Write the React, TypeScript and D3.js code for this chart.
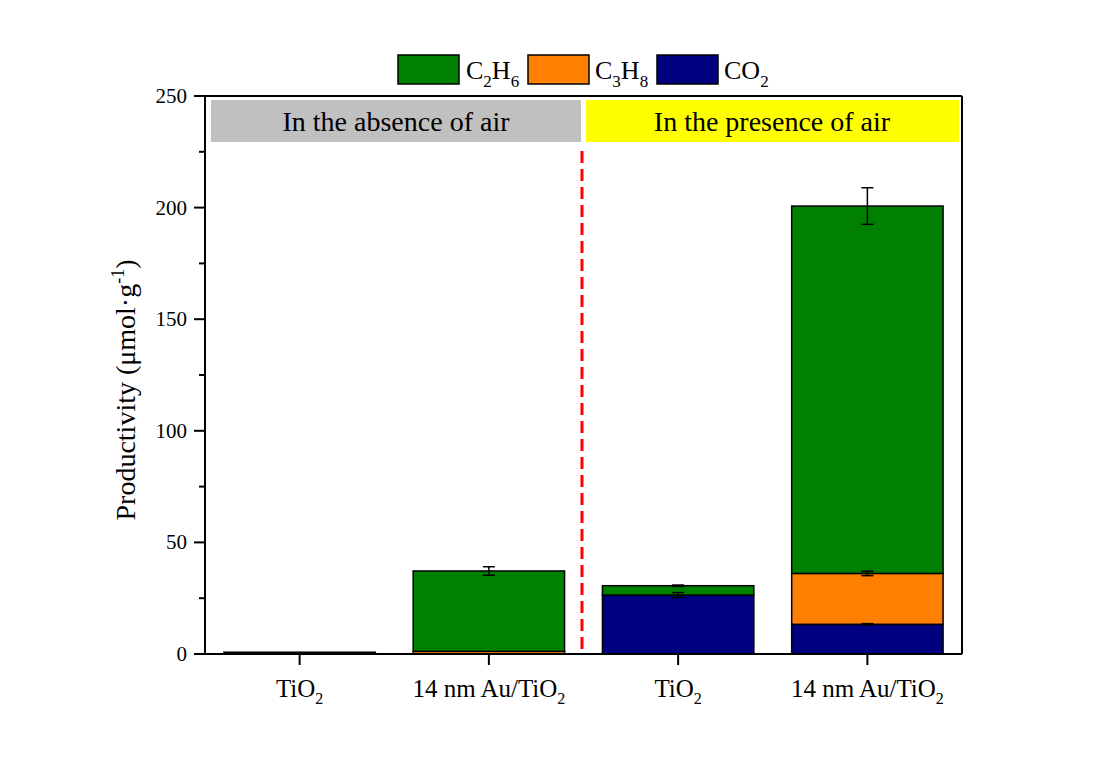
import React from "react";
import * as d3 from "d3";

const categories = ["TiO2 (no air)", "14 nm Au/TiO2 (no air)", "TiO2 (air)", "14 nm Au/TiO2 (air)"];
const categoryLabels: [string, string][] = [["TiO", "2"], ["14 nm Au/TiO", "2"], ["TiO", "2"], ["14 nm Au/TiO", "2"]];
const co2Values = [0, 0, 26.4, 13.3];
const c3h8Values = [0, 1.2, 0, 22.8];
const c2h6Values = [0.8, 36.0, 4.2, 164.6];
const co2Errors = [0, 0, 1.1, 0.3];
const c3h8Errors = [0, 0, 0, 1.0];
const c2h6Errors = [0, 1.9, 0.3, 8.2];
const yTicks = [0, 50, 100, 150, 200, 250];
const yMinorTicks = [25, 75, 125, 175, 225];
const seriesNames: [string, string, string, string][] = [["C", "2", "H", "6"], ["C", "3", "H", "8"], ["CO", "2", "", ""]];

const colors = { C2H6: "#008000", C3H8: "#FF8000", CO2: "#000080" };
const FONT = "'Liberation Serif', 'Times New Roman', serif";

export default function App() {
  const left = 205, right = 962, top = 96, bottom = 654;
  const x = d3.scaleBand<string>().domain(categories).range([left, right]).paddingInner(0.2).paddingOuter(0.1);
  const y = d3.scaleLinear().domain([0, 250]).range([bottom, top]);

  const stackKeys = ["CO2", "C3H8", "C2H6"] as const;
  const rows = categories.map((c, i) => ({ cat: c, CO2: co2Values[i], C3H8: c3h8Values[i], C2H6: c2h6Values[i] }));
  const stack = d3.stack<any>().keys(stackKeys as any)(rows);
  const errs: Record<string, number[]> = { CO2: co2Errors, C3H8: c3h8Errors, C2H6: c2h6Errors };
  const bw = x.bandwidth();

  const legendItems = [
    { key: "C2H6", box: 398, text: 466, name: seriesNames[0] },
    { key: "C3H8", box: 528, text: 595, name: seriesNames[1] },
    { key: "CO2", box: 657, text: 724, name: seriesNames[2] },
  ];

  return (
    <div style={{ position: "absolute", left: 0, top: 0 }}>
      <svg width={1101} height={771} style={{ display: "block", background: "#fff" }} fontFamily={FONT}>
        {/* Legend */}
        {legendItems.map((it) => (
          <g key={it.key}>
            <rect x={it.box} y={55} width={61} height={29} fill={(colors as any)[it.key]} stroke="#000" strokeWidth={1.5} />
            <text x={it.text} y={79} fontSize={26} fill="#000">
              <tspan>{it.name[0]}</tspan>
              <tspan fontSize={17} dy={8}>{it.name[1]}</tspan>
              {it.name[2] && <tspan dy={-8}>{it.name[2]}</tspan>}
              {it.name[3] && <tspan fontSize={17} dy={8}>{it.name[3]}</tspan>}
            </text>
          </g>
        ))}

        {/* Header boxes */}
        <rect x={211} y={100} width={370} height={42} fill="#C0C0C0" />
        <rect x={586} y={100} width={373} height={42} fill="#FFFF00" />
        <text x={396} y={131} textAnchor="middle" fontSize={28} fill="#000">In the absence of air</text>
        <text x={772} y={131} textAnchor="middle" fontSize={28} fill="#000">In the presence of air</text>

        {/* Divider */}
        <line x1={582} x2={582} y1={151} y2={bottom} stroke="#FF0000" strokeWidth={3} strokeDasharray="12,6" />

        {/* Bars */}
        {stack.map((layer) => (
          <g key={layer.key}>
            {layer.map((d, i) => {
              const h = y(d[0]) - y(d[1]);
              if (d[1] - d[0] <= 0) return null;
              return (
                <rect key={i} x={x(categories[i])!} y={y(d[1])} width={bw} height={h}
                  fill={(colors as any)[layer.key]} stroke="#000" strokeWidth={1.5} />
              );
            })}
          </g>
        ))}

        {/* Error bars */}
        {stack.map((layer) => (
          <g key={"e" + layer.key}>
            {layer.map((d, i) => {
              const e = errs[layer.key as string][i];
              if (e <= 0 || d[1] - d[0] <= 0) return null;
              const cx = x(categories[i])! + bw / 2;
              return (
                <g key={i} stroke="#000" strokeWidth={1.5}>
                  <line x1={cx} x2={cx} y1={y(d[1] + e)} y2={y(d[1] - e)} />
                  <line x1={cx - 6} x2={cx + 6} y1={y(d[1] + e)} y2={y(d[1] + e)} />
                  <line x1={cx - 6} x2={cx + 6} y1={y(d[1] - e)} y2={y(d[1] - e)} />
                </g>
              );
            })}
          </g>
        ))}

        {/* Frame */}
        <line x1={194} x2={right} y1={top} y2={top} stroke="#000" strokeWidth={2} />
        <line x1={right} x2={right} y1={top} y2={bottom} stroke="#000" strokeWidth={2} />
        <line x1={left} x2={left} y1={top} y2={bottom} stroke="#000" strokeWidth={2} />
        <line x1={194} x2={right} y1={bottom} y2={bottom} stroke="#000" strokeWidth={2} />

        {/* Y ticks */}
        {yTicks.map((t) => (
          <g key={t}>
            <line x1={194} x2={left} y1={y(t)} y2={y(t)} stroke="#000" strokeWidth={2} />
            <text x={187} y={y(t) + 7} textAnchor="end" fontSize={21} fill="#000">{t}</text>
          </g>
        ))}
        {yMinorTicks.map((t) => (
          <line key={t} x1={199} x2={left} y1={y(t)} y2={y(t)} stroke="#000" strokeWidth={2} />
        ))}

        {/* X ticks */}
        {categories.map((c, i) => {
          const cx = x(c)! + bw / 2;
          return (
            <g key={c}>
              <line x1={cx} x2={cx} y1={bottom} y2={bottom + 11} stroke="#000" strokeWidth={2} />
              <text x={cx} y={697} textAnchor="middle" fontSize={25} fill="#000">
                <tspan>{categoryLabels[i][0]}</tspan>
                <tspan fontSize={16} dy={7}>{categoryLabels[i][1]}</tspan>
              </text>
            </g>
          );
        })}

        {/* Y title */}
        <text transform={`translate(135, ${(top + bottom) / 2 + 15}) rotate(-90)`} textAnchor="middle" fontSize={28} fill="#000">
          <tspan>Productivity (μmol·g</tspan>
          <tspan fontSize={18} dy={-11}>-1</tspan>
          <tspan dy={11}>)</tspan>
        </text>
      </svg>
    </div>
  );
}
